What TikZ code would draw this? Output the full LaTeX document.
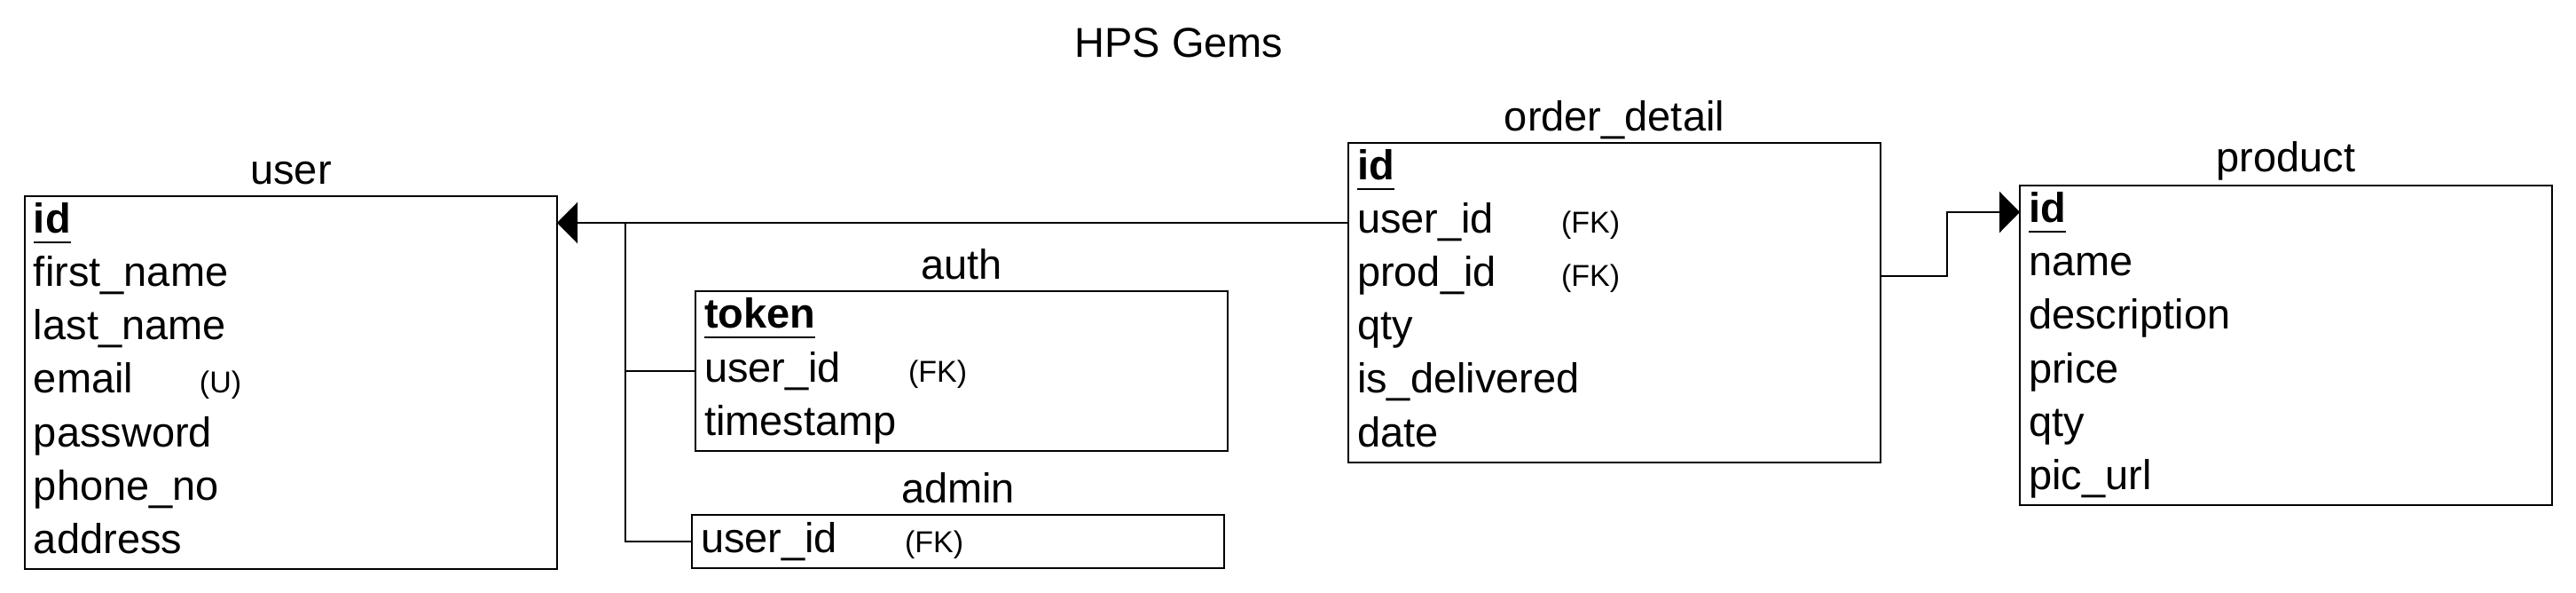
\documentclass[tikz,border=0pt]{standalone}
\usepackage{fontspec}
\setmainfont{Liberation Sans}
\usetikzlibrary{positioning,fit,arrows.meta}

\newcommand\tagfont{\fontsize{17pt}{20pt}\selectfont}
\newcommand\pkey[1]{\setbox0\hbox{\bfseries #1}\rlap{\rule[-5.5pt]{\wd0}{1.2pt}}\box0}
\newcommand\withtag[3]{\makebox[#1][l]{#2}{\tagfont(#3)}}

\begin{document}
\begin{tikzpicture}[line width=1.3pt,node distance=0pt,font=\fontsize{23.5pt}{28pt}\selectfont]
	\def \userx{14pt}
	\def \usery{-110.5pt}
	\def \authx{392pt}
	\def \authy{-164pt}
	\def \adminx{390pt}
	\def \adminy{-290pt}
	\def \ordx{760pt}
	\def \ordy{-80.5pt}
	\def \prodx{1138.5pt}
	\def \prody{-104.5pt}
	\tikzstyle{field}=[inner xsep=5pt,inner ysep=0pt,outer sep=0pt,text width=290pt,align=left,text height=21pt,text depth=9pt]
	\tikzstyle{table}=[draw=black,line width=1.3pt,inner sep=0pt]
	\tikzstyle{tname}=[inner sep=0pt,anchor=base]
	\tikzstyle{link}=[draw=black,line width=1.3pt]
	\tikzstyle{fkarrow}=[link,-{Triangle[length=11.5pt,width=23pt]}]
	\useasboundingbox (0,0) rectangle (1452pt,-334pt);
	
	\node[tname] (title) at (664.5pt,-32.5pt) {HPS Gems};
	
	% user
	\node[field,anchor=north west] (user-id) at (\userx,\usery) {\pkey{id}};
	\node[field,below=of user-id] (user-first) {first\_name};
	\node[field,below=of user-first] (user-last) {last\_name};
	\node[field,below=of user-last] (user-mail) {\withtag{93.5pt}{email}{U}};
	\node[field,below=of user-mail] (user-pass) {password};
	\node[field,below=of user-pass] (user-phone) {phone\_no};
	\node[field,below=of user-phone] (user-addr) {address};
	\node[table,fit=(user-id)(user-addr)] (user) {};
	\node[tname,above=6pt of user.north,anchor=base] (user-lbl) {user};
	
	% auth
	\node[field,anchor=north west] (auth-token) at (\authx,\authy) {\pkey{token}};
	\node[field,below=of auth-token] (auth-uid) {\withtag{115pt}{user\_id}{FK}};
	\node[field,below=of auth-uid] (auth-time) {timestamp};
	\node[table,fit=(auth-token)(auth-time)] (auth) {};
	\node[tname,above=6pt of auth.north,anchor=base] (auth-lbl) {auth};
	
	% admin
	\node[field,anchor=north west] (admin-uid) at (\adminx,\adminy) {\withtag{115pt}{user\_id}{FK}};
	\node[table,fit=(admin-uid)] (admin) {};
	\node[tname,above=6pt of admin.north,anchor=base] (admin-lbl) {admin};
	
	% order_detail
	\node[field,anchor=north west] (ord-id) at (\ordx,\ordy) {\pkey{id}};
	\node[field,below=of ord-id] (ord-uid) {\withtag{115pt}{user\_id}{FK}};
	\node[field,below=of ord-uid] (ord-pid) {\withtag{115pt}{prod\_id}{FK}};
	\node[field,below=of ord-pid] (ord-qty) {qty};
	\node[field,below=of ord-qty] (ord-deliv) {is\_delivered};
	\node[field,below=of ord-deliv] (ord-date) {date};
	\node[table,fit=(ord-id)(ord-date)] (ord) {};
	\node[tname,above=6pt of ord.north,anchor=base] (ord-lbl) {order\_detail};
	
	% product
	\node[field,anchor=north west] (prod-id) at (\prodx,\prody) {\pkey{id}};
	\node[field,below=of prod-id] (prod-name) {name};
	\node[field,below=of prod-name] (prod-desc) {description};
	\node[field,below=of prod-desc] (prod-price) {price};
	\node[field,below=of prod-price] (prod-qty) {qty};
	\node[field,below=of prod-qty] (prod-pic) {pic\_url};
	\node[table,fit=(prod-id)(prod-pic)] (prod) {};
	\node[tname,above=7pt of prod.north,anchor=base] (prod-lbl) {product};
	
	% relations
	\coordinate[right=38.5pt of user-id.east] (trunk);
	\coordinate[right=37.5pt of ord-pid.east] (bend);
	\draw[fkarrow] (ord-uid.west) -- (user-id.east);
	\draw[link] (admin-uid.west) -| (trunk);
	\draw[link] (auth-uid.west) -- (auth-uid.west -| trunk);
	\draw[fkarrow] (ord-pid.east) -- (bend) |- (prod-id.west);
\end{tikzpicture}
\end{document}
